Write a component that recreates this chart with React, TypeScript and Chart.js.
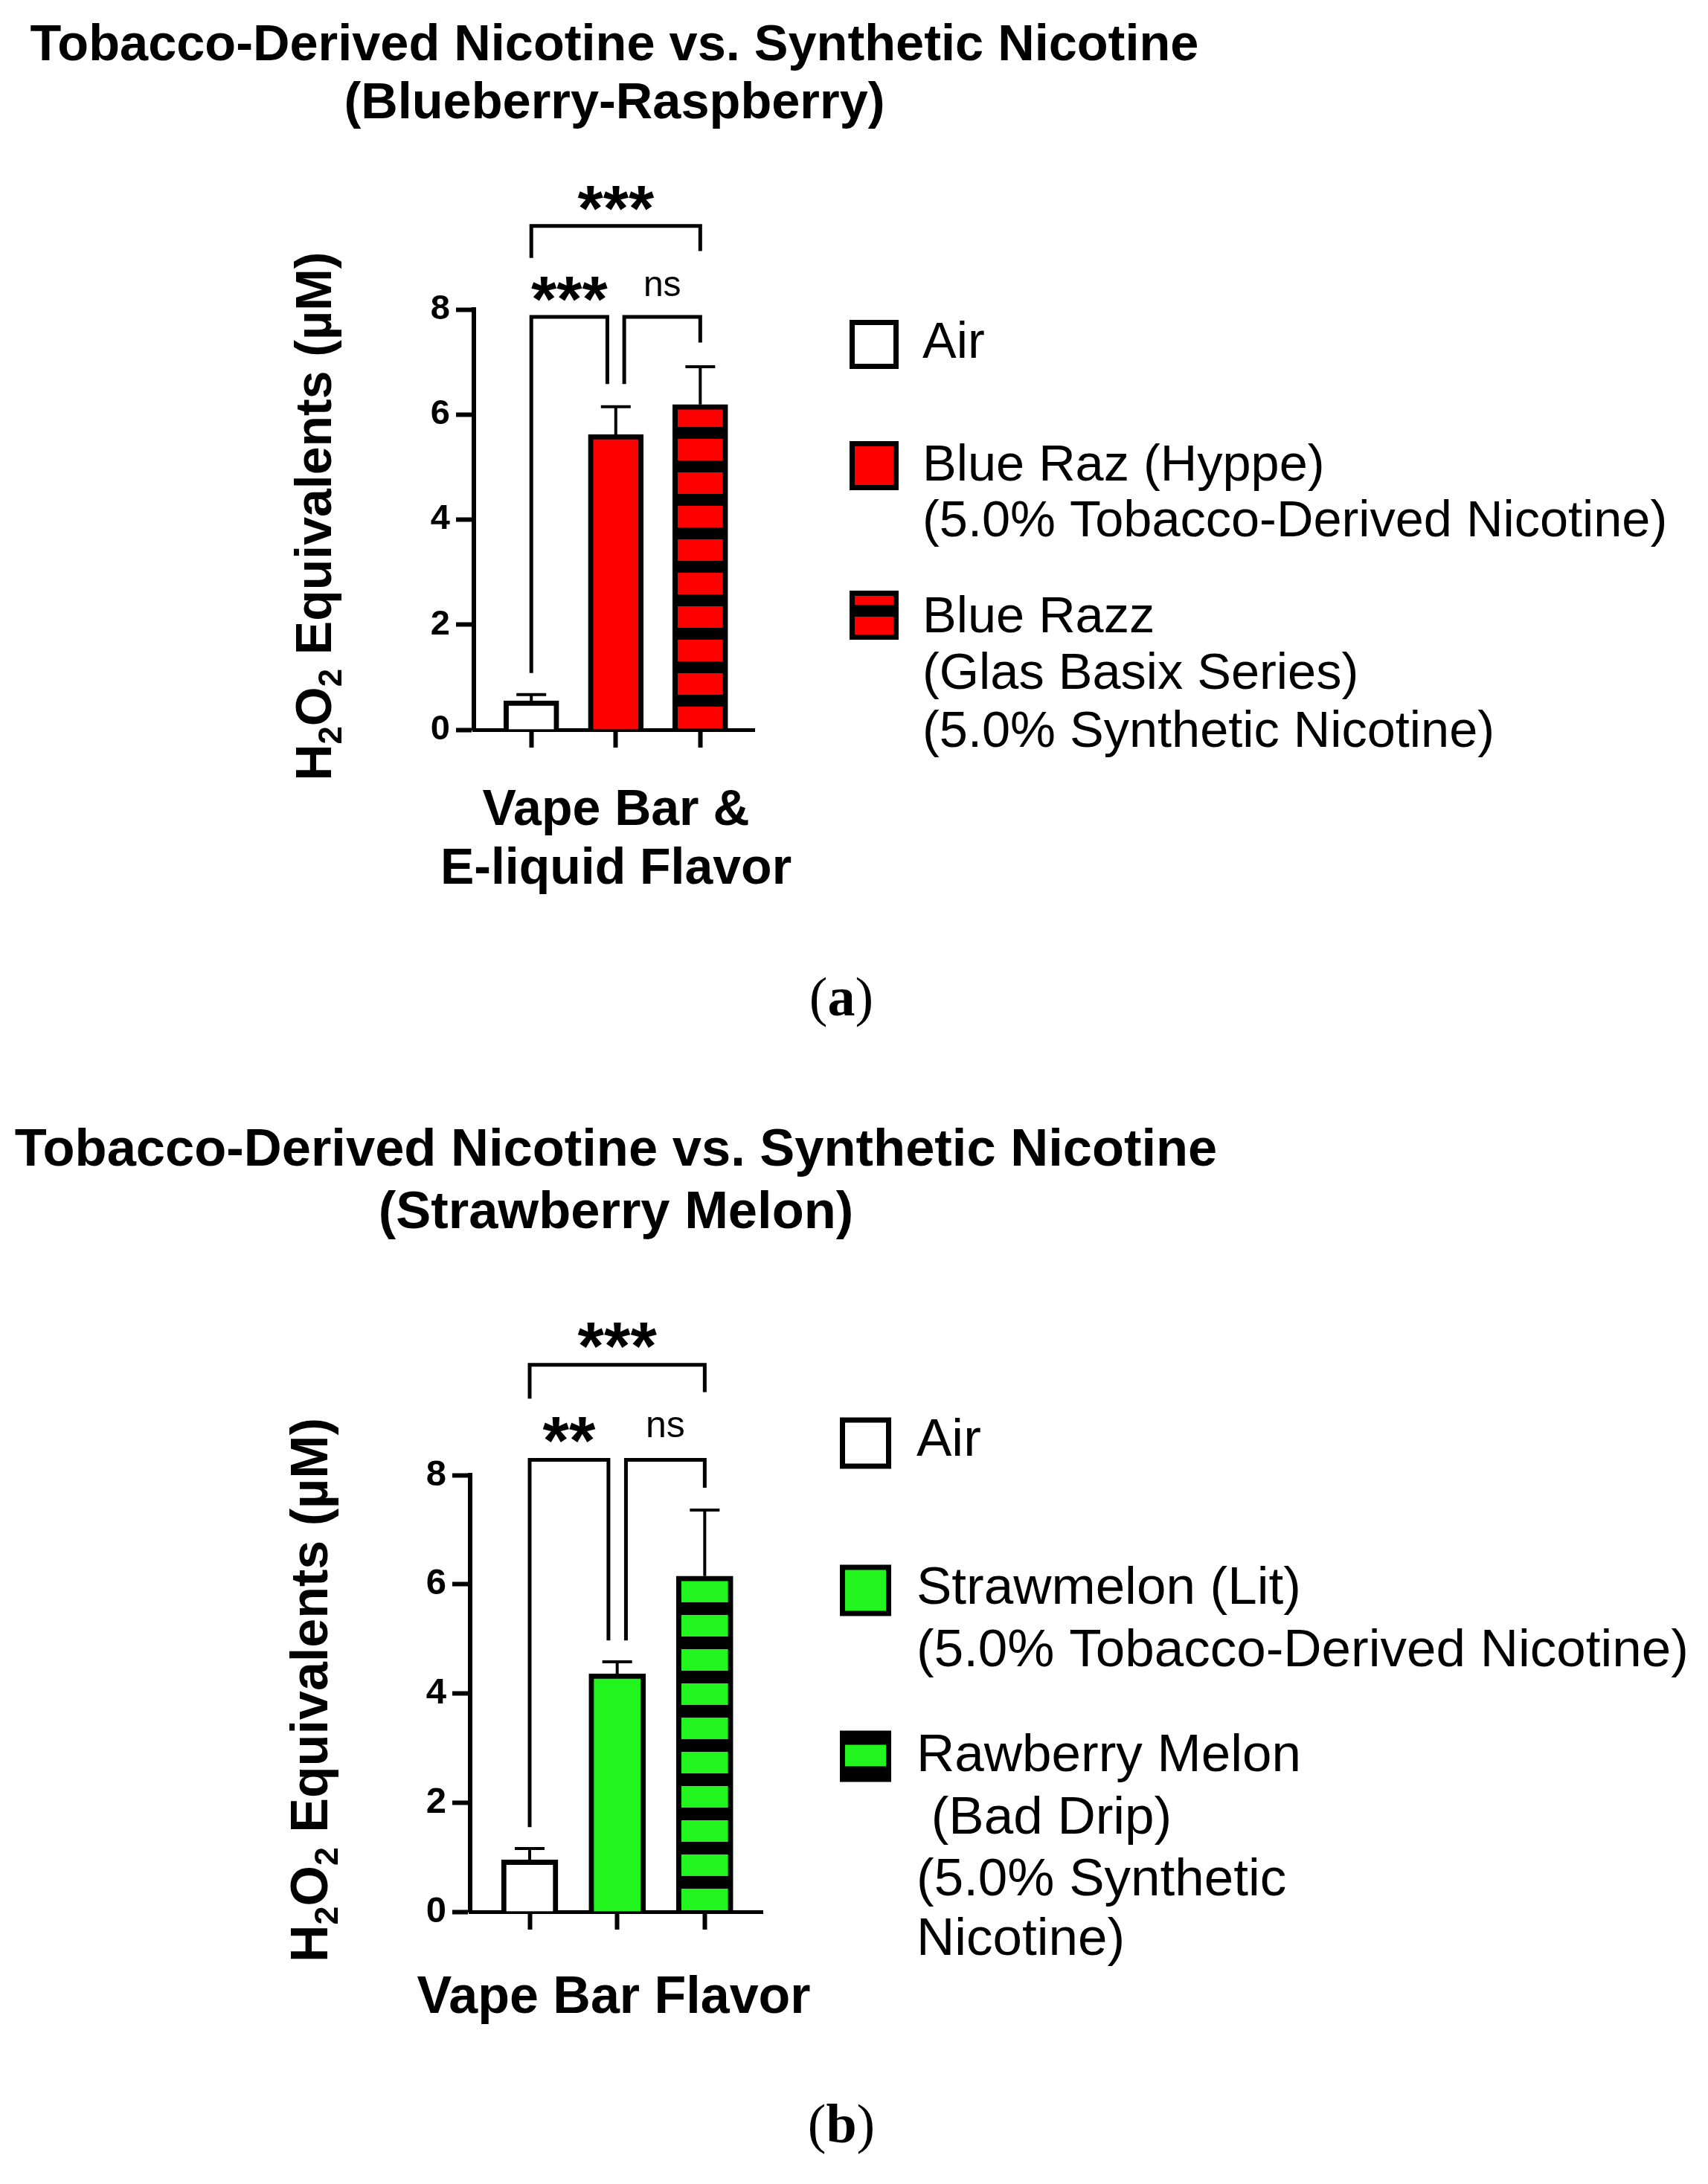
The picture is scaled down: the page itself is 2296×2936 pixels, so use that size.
import React, { useEffect, useRef } from 'react';
import { Chart, registerables } from 'chart.js';

Chart.register(...registerables);

const FONT = '"Liberation Sans", Arial, Helvetica, sans-serif';
const SERIF = '"Liberation Serif", "Times New Roman", serif';

// ---------- shared ticks ----------
const yTickValues = [0, 2, 4, 6, 8];
const xTickValues = [0, 1, 2];

// ---------- panel (a) data ----------
const titleA = ['Tobacco-Derived Nicotine vs. Synthetic Nicotine', '(Blueberry-Raspberry)'];
const categoriesA = ['Air', 'Blue Raz (Hyppe)', 'Blue Razz (Glas Basix Series)'];
const meansA = [0.55, 5.62, 6.19];
const errorsA = [0.12, 0.53, 0.72];
const legendA = [
  ['Air'],
  ['Blue Raz (Hyppe)', '(5.0% Tobacco-Derived Nicotine)'],
  ['Blue Razz', '(Glas Basix Series)', '(5.0% Synthetic Nicotine)'],
];
const xTitleA = ['Vape Bar &', 'E-liquid Flavor'];
const bracketStartA = [0, 0, 1.1];
const bracketEndA = [2, 0.9, 2];
const bracketLevelA = [9.59, 7.86, 7.86];
const bracketStartDropA = [8.98, 1.08, 6.58];
const bracketEndDropA = [9.11, 6.58, 7.37];
const bracketLabelsA = ['***', '***', 'ns'];
const bracketLabelYA = [10.11, 8.39, 8.44];

// ---------- panel (b) data ----------
const titleB = ['Tobacco-Derived Nicotine vs. Synthetic Nicotine', '(Strawberry Melon)'];
const categoriesB = ['Air', 'Strawmelon (Lit)', 'Rawberry Melon (Bad Drip)'];
const meansB = [0.95, 4.36, 6.15];
const errorsB = [0.21, 0.22, 1.21];
const legendB = [
  ['Air'],
  ['Strawmelon (Lit)', '(5.0% Tobacco-Derived Nicotine)'],
  ['Rawberry Melon', ' (Bad Drip)', '(5.0% Synthetic', 'Nicotine)'],
];
const xTitleB = ['Vape Bar Flavor'];
const bracketStartB = [0, 0, 1.1];
const bracketEndB = [2, 0.9, 2];
const bracketLevelB = [10.02, 8.28, 8.28];
const bracketStartDropB = [9.4, 1.55, 4.97];
const bracketEndDropB = [9.52, 4.97, 7.77];
const bracketLabelsB = ['***', '**', 'ns'];
const bracketLabelYB = [10.56, 8.83, 8.88];

type Panel = {
  title: string[];
  categories: string[];
  means: number[];
  errors: number[];
  legend: string[][];
  xTitle: string[];
  bStart: number[];
  bEnd: number[];
  bLevel: number[];
  bStartDrop: number[];
  bEndDrop: number[];
  bLabels: string[];
  bLabelY: number[];
  caption: string;
  color: string;
  L: any;
};

const W = 2296;
const H = 1468;

const panels: Panel[] = [
  {
    title: titleA, categories: categoriesA, means: meansA, errors: errorsA, legend: legendA, xTitle: xTitleA,
    bStart: bracketStartA, bEnd: bracketEndA, bLevel: bracketLevelA, bStartDrop: bracketStartDropA,
    bEndDrop: bracketEndDropA, bLabels: bracketLabelsA, bLabelY: bracketLabelYA, caption: 'a', color: '#ff0000',
    L: {
      plotLeft: 637, plotRight: 1014, plotTop: 416, plotBottom: 981,
      xMin: -0.68, xMax: 2.64, barThickness: 74,
      titleX: 826, titleY: [62, 140], titleSize: 68.5,
      yTitleX: 421, yTitleY: 694, yTitleSize: 68,
      xTitleX: 828, xTitleY: [1090, 1169], xTitleSize: 68,
      tickSize: 47, starSize: 88, nsSize: 48,
      legendBoxX: 1142, legendBoxSize: 66, legendBoxY: [463, 626, 827],
      legendTextX: 1240, legendLineY: [[462], [627, 702], [831, 907, 985]], legendSize: 68.5,
      captionX: 1131, captionY: 1346, captionSize: 74,
      period: 45, dark: 16,
    },
  },
  {
    title: titleB, categories: categoriesB, means: meansB, errors: errorsB, legend: legendB, xTitle: xTitleB,
    bStart: bracketStartB, bEnd: bracketEndB, bLevel: bracketLevelB, bStartDrop: bracketStartDropB,
    bEndDrop: bracketEndDropB, bLabels: bracketLabelsB, bLabelY: bracketLabelYB, caption: 'b', color: '#22f51e',
    L: {
      plotLeft: 632, plotRight: 1025, plotTop: 515, plotBottom: 1102,
      xMin: -0.68, xMax: 2.66, barThickness: 76,
      titleX: 828, titleY: [80, 164], titleSize: 70.5,
      yTitleX: 415, yTitleY: 804, yTitleSize: 70,
      xTitleX: 825, xTitleY: [1219], xTitleSize: 70,
      tickSize: 49, starSize: 91, nsSize: 50,
      legendBoxX: 1129, legendBoxSize: 69, legendBoxY: [472, 670, 893],
      legendTextX: 1232, legendLineY: [[469], [668, 752], [893, 977, 1060, 1140]], legendSize: 71,
      captionX: 1131, captionY: 1393, captionSize: 74,
      period: 46, dark: 17,
    },
  },
];

function makePattern(ctx: CanvasRenderingContext2D, color: string, period: number, dark: number) {
  const c = document.createElement('canvas');
  c.width = 8;
  c.height = period;
  const g = c.getContext('2d')!;
  g.fillStyle = '#000';
  g.fillRect(0, 0, 8, dark);
  g.fillStyle = color;
  g.fillRect(0, dark, 8, period - dark);
  return ctx.createPattern(c, 'repeat')!;
}

function drawYTitle(ctx: CanvasRenderingContext2D, cx: number, cy: number, size: number) {
  const parts: [string, boolean][] = [['H', false], ['2', true], ['O', false], ['2', true], [' Equivalents (µM)', false]];
  const sub = size * 0.64;
  ctx.save();
  ctx.translate(cx, cy);
  ctx.rotate(-Math.PI / 2);
  ctx.fillStyle = '#000';
  ctx.textBaseline = 'alphabetic';
  ctx.textAlign = 'left';
  const widths = parts.map(([t, s]) => {
    ctx.font = `bold ${s ? sub : size}px ${FONT}`;
    return ctx.measureText(t).width;
  });
  const total = widths.reduce((a, b) => a + b, 0);
  let x = -total / 2;
  const base = size * 0.36;
  parts.forEach(([t, s], i) => {
    ctx.font = `bold ${s ? sub : size}px ${FONT}`;
    ctx.fillText(t, x, s ? base + size * 0.2 : base);
    x += widths[i];
  });
  ctx.restore();
}

function PanelChart({ p }: { p: Panel }) {
  const ref = useRef<HTMLCanvasElement | null>(null);
  useEffect(() => {
    const canvas = ref.current!;
    const ctx = canvas.getContext('2d')!;
    const L = p.L;
    const barPattern = makePattern(ctx, p.color, L.period, L.dark);
    const legendPattern = makePattern(ctx, p.color, L.period, L.dark);

    const decor = {
      id: 'decor',
      beforeDatasetsDraw(chart: any) {
        const y0 = chart.scales.y.getPixelForValue(0) - 2;
        barPattern.setTransform(new DOMMatrix([1, 0, 0, 1, 0, y0]));
      },
      afterDatasetsDraw(chart: any) {
        const c: CanvasRenderingContext2D = chart.ctx;
        const xs = chart.scales.x;
        const ys = chart.scales.y;
        c.save();
        // error bars (upper only)
        c.strokeStyle = '#000';
        c.lineWidth = 4;
        c.lineCap = 'butt';
        p.means.forEach((m, i) => {
          const x = xs.getPixelForValue(xTickValues[i]);
          const yb = ys.getPixelForValue(m);
          const yt = ys.getPixelForValue(m + p.errors[i]);
          c.beginPath();
          c.moveTo(x, yb);
          c.lineTo(x, yt);
          c.moveTo(x - 20, yt);
          c.lineTo(x + 20, yt);
          c.stroke();
        });
        // significance brackets
        c.lineWidth = 5;
        c.lineJoin = 'miter';
        p.bStart.forEach((s, i) => {
          const x1 = xs.getPixelForValue(s);
          const x2 = xs.getPixelForValue(p.bEnd[i]);
          const yl = ys.getPixelForValue(p.bLevel[i]);
          c.beginPath();
          c.moveTo(x1, ys.getPixelForValue(p.bStartDrop[i]));
          c.lineTo(x1, yl);
          c.lineTo(x2, yl);
          c.lineTo(x2, ys.getPixelForValue(p.bEndDrop[i]));
          c.stroke();
          const lab = p.bLabels[i];
          const isNs = lab === 'ns';
          c.font = isNs ? `${L.nsSize}px ${FONT}` : `bold ${L.starSize}px ${FONT}`;
          c.fillStyle = '#000';
          c.textAlign = 'center';
          c.textBaseline = 'alphabetic';
          const mt = c.measureText(lab);
          const yc = ys.getPixelForValue(p.bLabelY[i]);
          const base = yc + (mt.actualBoundingBoxAscent - mt.actualBoundingBoxDescent) / 2;
          c.fillText(lab, (x1 + x2) / 2, base);
        });
        c.restore();
      },
      afterDraw(chart: any) {
        const c: CanvasRenderingContext2D = chart.ctx;
        c.save();
        c.fillStyle = '#000';
        // title
        c.textAlign = 'center';
        c.textBaseline = 'middle';
        c.font = `bold ${L.titleSize}px ${FONT}`;
        p.title.forEach((t, i) => c.fillText(t, L.titleX, L.titleY[i]));
        // x title
        c.font = `bold ${L.xTitleSize}px ${FONT}`;
        p.xTitle.forEach((t, i) => c.fillText(t, L.xTitleX, L.xTitleY[i]));
        // y title
        drawYTitle(c, L.yTitleX, L.yTitleY, L.yTitleSize);
        // legend
        const bs = L.legendBoxSize;
        const bw = 7;
        p.legend.forEach((lines, i) => {
          const bx = L.legendBoxX;
          const by = L.legendBoxY[i] - bs / 2;
          c.fillStyle = '#000';
          c.fillRect(bx, by, bs, bs);
          if (i === 0) c.fillStyle = '#fff';
          else if (i === 1) c.fillStyle = p.color;
          else {
            const innerBottom = by + bs - bw;
            const anchor = p.caption === 'a' ? innerBottom + 5 : innerBottom - 14;
            legendPattern.setTransform(new DOMMatrix([1, 0, 0, 1, 0, anchor]));
            c.fillStyle = legendPattern;
          }
          c.fillRect(bx + bw, by + bw, bs - 2 * bw, bs - 2 * bw);
          c.fillStyle = '#000';
          c.textAlign = 'left';
          c.textBaseline = 'middle';
          c.font = `${L.legendSize}px ${FONT}`;
          lines.forEach((t, j) => c.fillText(t, L.legendTextX, L.legendLineY[i][j]));
        });
        // caption (a)/(b)
        c.textBaseline = 'middle';
        c.textAlign = 'left';
        const cs = L.captionSize;
        c.font = `${cs}px ${SERIF}`;
        const wp = c.measureText('(').width;
        c.font = `bold ${cs}px ${SERIF}`;
        const wl = c.measureText(p.caption).width;
        let cx = L.captionX - (2 * wp + wl) / 2;
        c.font = `${cs}px ${SERIF}`;
        c.fillText('(', cx, L.captionY);
        cx += wp;
        c.font = `bold ${cs}px ${SERIF}`;
        c.fillText(p.caption, cx, L.captionY);
        cx += wl;
        c.font = `${cs}px ${SERIF}`;
        c.fillText(')', cx, L.captionY);
        c.restore();
      },
    };

    const yAxisW = 120;
    const xAxisH = 40;
    const chart = new Chart(canvas, {
      type: 'bar',
      data: {
        labels: p.categories,
        datasets: [
          {
            label: 'H2O2',
            data: p.means.map((m, i) => ({ x: xTickValues[i], y: m })) as any,
            backgroundColor: ['#ffffff', p.color, barPattern] as any,
            borderColor: '#000',
            borderWidth: 7,
            borderSkipped: 'start',
            barThickness: L.barThickness,
          },
        ],
      },
      options: {
        animation: false,
        responsive: false,
        devicePixelRatio: 1,
        events: [],
        layout: {
          padding: {
            left: L.plotLeft - yAxisW,
            right: W - L.plotRight,
            top: L.plotTop,
            bottom: H - L.plotBottom - xAxisH,
          },
        },
        plugins: {
          legend: { display: false },
          title: { display: false },
          tooltip: { enabled: false },
        },
        scales: {
          x: {
            type: 'linear',
            min: L.xMin,
            max: L.xMax,
            offset: false,
            z: 1,
            afterBuildTicks: (s: any) => {
              s.ticks = xTickValues.map((v) => ({ value: v }));
            },
            afterFit: (s: any) => {
              s.height = xAxisH;
            },
            ticks: { display: false },
            grid: {
              offset: false,
              drawOnChartArea: false,
              drawTicks: true,
              tickLength: 24,
              tickWidth: 6,
              tickColor: '#000',
              color: '#000',
            },
            border: { display: true, color: '#000', width: 5 },
          },
          y: {
            type: 'linear',
            min: 0,
            max: 8,
            afterBuildTicks: (s: any) => {
              s.ticks = yTickValues.map((v) => ({ value: v }));
            },
            afterFit: (s: any) => {
              s.width = yAxisW;
            },
            ticks: {
              color: '#000',
              padding: 8,
              font: { family: FONT, size: L.tickSize, weight: 'bold' },
            },
            grid: {
              drawOnChartArea: false,
              drawTicks: true,
              tickLength: 24,
              tickWidth: 6,
              tickColor: '#000',
              color: '#000',
            },
            border: { display: true, color: '#000', width: 6 },
          },
        },
      } as any,
      plugins: [decor],
    });
    return () => chart.destroy();
  }, [p]);
  return <canvas ref={ref} width={W} height={H} style={{ display: 'block', width: W, height: H }} />;
}

export default function App() {
  return (
    <div style={{ position: 'absolute', left: 0, top: 0, width: W, height: 2 * H, background: '#fff' }}>
      {panels.map((p, i) => (
        <PanelChart key={i} p={p} />
      ))}
    </div>
  );
}
